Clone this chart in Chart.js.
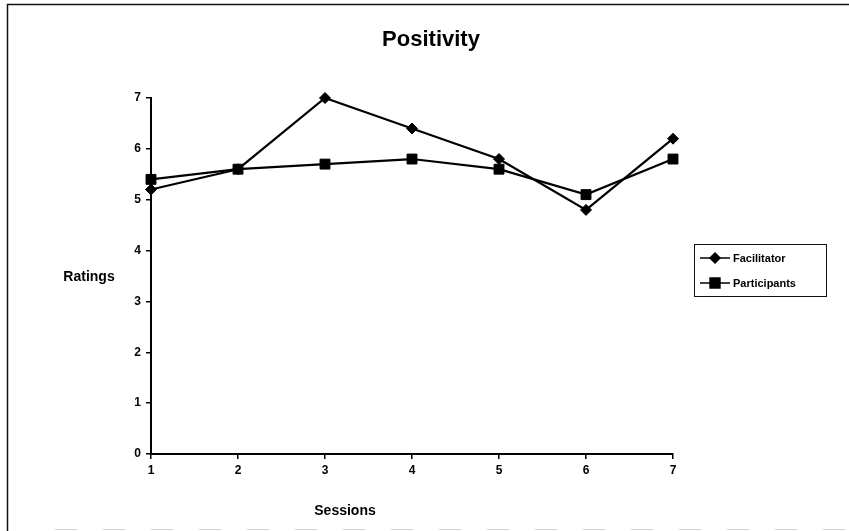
<!DOCTYPE html>
<html>
<head>
<meta charset="utf-8">
<script src="https://cdn.jsdelivr.net/npm/chart.js@4/dist/chart.umd.min.js"></script>
<style>
  html, body { margin: 0; padding: 0; background: #fff; }
  #wrap { width: 849px; height: 531px; position: relative; }
</style>
</head>
<body>
<div id="wrap"><canvas id="c" width="849" height="531"></canvas></div>
<script>
// Session numbers along the x axis
const sessions = ['1', '2', '3', '4', '5', '6', '7'];
// Mean positivity ratings per session
const facilitator = [5.2, 5.6, 7.0, 6.4, 5.8, 4.8, 6.2];
const participants = [5.4, 5.6, 5.7, 5.8, 5.6, 5.1, 5.8];
// Rating scale ticks
const ratingTicks = [0, 1, 2, 3, 4, 5, 6, 7];

const FONT = '"Liberation Sans", Arial, sans-serif';

// Frame, title, axis captions and legend box drawn on top of the chart
const decorations = {
  id: 'decorations',
  afterDraw(chart) {
    const ctx = chart.ctx;
    ctx.save();

    // outer frame
    ctx.strokeStyle = '#111';
    ctx.lineWidth = 1.5;
    ctx.beginPath();
    ctx.moveTo(7.5, 531);
    ctx.lineTo(7.5, 4.5);
    ctx.lineTo(849, 4.5);
    ctx.stroke();
    ctx.strokeStyle = '#d4d4d4';
    ctx.lineWidth = 1;
    ctx.setLineDash([22, 26]);
    ctx.beginPath();
    ctx.moveTo(55, 529.5);
    ctx.lineTo(849, 529.5);
    ctx.stroke();
    ctx.setLineDash([]);

    // title
    ctx.fillStyle = '#000';
    ctx.textAlign = 'center';
    ctx.textBaseline = 'middle';
    ctx.font = 'bold 22px ' + FONT;
    ctx.fillText('Positivity', 431, 40);

    // axis captions
    ctx.font = 'bold 14px ' + FONT;
    ctx.fillText('Ratings', 89, 277);
    ctx.fillText('Sessions', 345, 511);

    // legend
    const lx = 694, ly = 244, lw = 132, lh = 52;
    ctx.strokeStyle = '#111';
    ctx.lineWidth = 1;
    ctx.strokeRect(lx + 0.5, ly + 0.5, lw, lh);
    const rows = [
      { label: 'Facilitator', style: 'rectRot', radius: 5, y: 258 },
      { label: 'Participants', style: 'rect', radius: 7, y: 283 }
    ];
    rows.forEach(r => {
      ctx.strokeStyle = '#000';
      ctx.lineWidth = 1.5;
      ctx.beginPath();
      ctx.moveTo(700, r.y);
      ctx.lineTo(730, r.y);
      ctx.stroke();
      ctx.fillStyle = '#000';
      Chart.helpers.drawPoint(ctx, { pointStyle: r.style, radius: r.radius, borderWidth: 1 }, 715, r.y);
      ctx.fill();
      ctx.fillStyle = '#000';
      ctx.textAlign = 'left';
      ctx.font = 'bold 11px ' + FONT;
      ctx.fillText(r.label, 733, r.y + 1);
    });
    ctx.restore();
  }
};

new Chart(document.getElementById('c'), {
  type: 'line',
  data: {
    labels: sessions,
    datasets: [
      {
        label: 'Facilitator',
        data: facilitator,
        borderColor: '#000',
        backgroundColor: '#000',
        borderWidth: 2.2,
        pointStyle: 'rectRot',
        pointRadius: 5.5,
        pointBorderWidth: 1,
        tension: 0,
        clip: false
      },
      {
        label: 'Participants',
        data: participants,
        borderColor: '#000',
        backgroundColor: '#000',
        borderWidth: 2.2,
        pointStyle: 'rect',
        pointRadius: 7,
        pointBorderWidth: 1,
        tension: 0,
        clip: false
      }
    ]
  },
  options: {
    responsive: false,
    animation: false,
    devicePixelRatio: 1,
    layout: { padding: { left: 121, top: 98, right: 176, bottom: 0 } },
    plugins: {
      legend: { display: false },
      title: { display: false },
      tooltip: { enabled: false }
    },
    scales: {
      x: {
        type: 'category',
        offset: false,
        afterFit(scale) { scale.height = 77; },
        grid: {
          drawOnChartArea: false,
          drawTicks: true,
          tickLength: 5,
          color: '#000',
          lineWidth: 1.5
        },
        border: { display: true, color: '#000', width: 2 },
        ticks: {
          color: '#000',
          padding: 4,
          maxRotation: 0,
          font: { family: FONT, size: 12, weight: 'bold' }
        }
      },
      y: {
        min: 0,
        max: 7,
        afterFit(scale) { scale.width = 30; },
        afterBuildTicks(scale) { scale.ticks = ratingTicks.map(v => ({ value: v })); },
        grid: {
          drawOnChartArea: false,
          drawTicks: true,
          tickLength: 5,
          color: '#000',
          lineWidth: 1.5
        },
        border: { display: true, color: '#000', width: 2 },
        ticks: {
          color: '#000',
          padding: 5,
          font: { family: FONT, size: 12, weight: 'bold' }
        }
      }
    }
  },
  plugins: [decorations]
});
</script>
</body>
</html>
